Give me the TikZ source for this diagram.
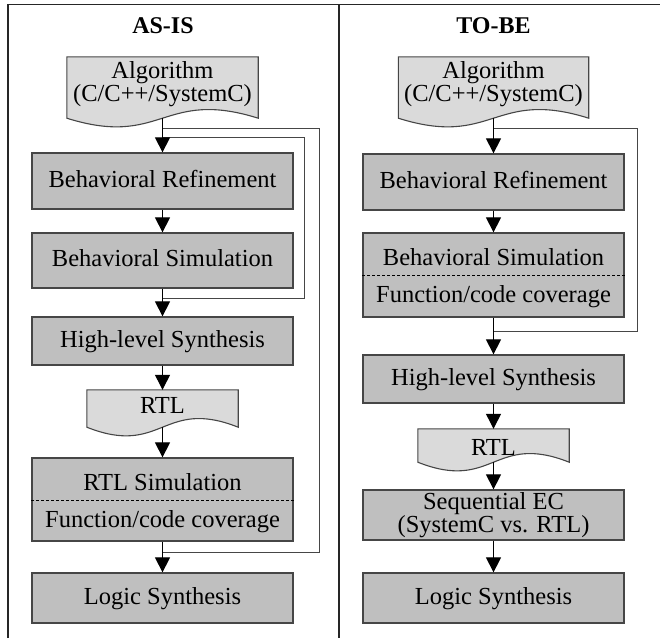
\documentclass[tikz,border=0pt]{standalone}
\usepackage{fontspec}
\setmainfont{Liberation Serif}
\usetikzlibrary{arrows.meta,calc,backgrounds}
\definecolor{boxgray}{RGB}{191,191,191}
\definecolor{docgray}{RGB}{218,218,218}
\definecolor{edgegray}{RGB}{70,70,70}

% document symbol behind a named node: flat top, wavy bottom on the node's south edge
\newcommand\docoutline[1]{%
  \begin{scope}[on background layer]
    \path[docline] (#1.south west) -- (#1.north west) -- (#1.north east) -- (#1.south east)
      .. controls ($(#1.south)+(0,-30)$) and ($(#1.south)+(0,30)$) .. (#1.south west) -- cycle;
  \end{scope}}

\begin{document}
\begin{tikzpicture}[x=1pt,y=-1pt,
  font=\fontsize{24.5}{22}\selectfont,
  stepbox/.style={draw=edgegray, line width=1.3pt, fill=boxgray, minimum width=261pt,
    inner sep=0pt, text height=17pt, text depth=5pt},
  twobox/.style={draw=edgegray, line width=1.3pt, fill=boxgray, minimum width=261pt, inner sep=0pt},
  doc/.style={inner sep=0pt, align=center},
  docline/.style={draw=edgegray, line width=1.1pt, fill=docgray},
  lbl/.style={anchor=base, inner sep=0pt},
  flow/.style={line width=1.2pt, -{Triangle[width=15pt,length=15pt]}},
  back/.style={draw=edgegray, line width=1pt},
  sepline/.style={dash pattern=on 3pt off 2pt, line width=0.8pt},
  frame/.style={line width=1.6pt, draw=black!85},
  title/.style={anchor=base, inner sep=0pt, font=\fontsize{24}{24}\selectfont\bfseries}
]
\useasboundingbox (0,0) rectangle (660,638);

% frame and column divider
\coordinate (fTL) at (8,4.5);
\coordinate (fTR) at (660,4.5);
\coordinate (fBL) at (8,638);
\coordinate (dT) at (339,4.5);
\coordinate (dB) at (339,638);
\draw[frame] (fBL) -- (fTL) -- (fTR);
\draw[frame] (dT) -- (dB);

% ---------------- AS-IS column ----------------
\node[title] (tAS) at (163,33.5) {AS-IS};

\node[doc, minimum width=191pt, minimum height=61pt, text depth=12pt] (algL) at (162.5,87.5)
  {Algorithm\\(C/C++/SystemC)};
\docoutline{algL}
\node[stepbox, minimum height=56pt] (refL) at (162.5,181) {Behavioral Refinement};
\node[stepbox, minimum height=55pt] (simL) at (162.5,260.5) {Behavioral Simulation};
\node[stepbox, minimum height=48pt] (hlsL) at (162.5,341) {High-level Synthesis};
\node[doc, minimum width=151pt, minimum height=37pt, text height=14pt, text depth=5pt] (rtlL) at (162.5,408.5) {RTL};
\docoutline{rtlL}
\node[twobox, minimum height=83pt] (rsimL) at (162.5,499.5) {};
\node[lbl] (rsimLa) at (162.5,490.5) {RTL Simulation};
\node[lbl] (rsimLb) at (162.5,527.5) {Function/code coverage};
\coordinate (sepL) at (0,500);
\draw[sepline] (rsimL.west |- sepL) -- (rsimL.east |- sepL);
\node[stepbox, minimum height=50pt] (logL) at (162.5,598) {Logic Synthesis};

% loop-back lines
\coordinate (loA1) at (162.5,128);
\coordinate (loA2) at (162.5,552);
\coordinate (loB1) at (162.5,137);
\coordinate (loB2) at (162.5,298);
\draw[back] (loA1) -- ++(156.5,0) |- (loA2);
\draw[back] (loB1) -- ++(141.5,0) |- (loB2);

\draw[flow] (algL.south) -- (refL.north);
\draw[flow] (refL.south) -- (simL.north);
\draw[flow] (simL.south) -- (hlsL.north);
\draw[flow] (hlsL.south) -- (rtlL.north);
\draw[flow] (rtlL.south) -- (rsimL.north);
\draw[flow] (rsimL.south) -- (logL.north);

% ---------------- TO-BE column ----------------
\node[title] (tTB) at (493.5,33.5) {TO-BE};

\node[doc, minimum width=190pt, minimum height=61pt, text depth=12pt] (algR) at (493.5,87.5)
  {Algorithm\\(C/C++/SystemC)};
\docoutline{algR}
\node[stepbox, minimum height=56pt] (refR) at (493.5,182) {Behavioral Refinement};
\node[twobox, minimum height=84pt] (simR) at (493.5,275) {};
\node[lbl] (simRa) at (493.5,265.7) {Behavioral Simulation};
\node[lbl] (simRb) at (493.5,302) {Function/code coverage};
\coordinate (sepR) at (0,275);
\draw[sepline] (simR.west |- sepR) -- (simR.east |- sepR);
\node[stepbox, minimum height=48pt] (hlsR) at (493.5,379) {High-level Synthesis};
\node[doc, minimum width=151pt, minimum height=33pt, text height=19pt, text depth=0pt] (rtlR) at (493.5,445.5) {RTL};
\docoutline{rtlR}
\node[twobox, minimum height=50pt, align=center, font=\fontsize{24.5}{20}\selectfont] (seqR) at (493.5,515)
  {Sequential EC\\(SystemC vs. RTL)};
\node[stepbox, minimum height=50pt] (logR) at (493.5,598) {Logic Synthesis};

% loop-back line
\coordinate (roA1) at (493.5,128);
\coordinate (roA2) at (493.5,331);
\draw[back] (roA1) -- ++(143.5,0) |- (roA2);

\draw[flow] (algR.south) -- (refR.north);
\draw[flow] (refR.south) -- (simR.north);
\draw[flow] (simR.south) -- (hlsR.north);
\draw[flow] (hlsR.south) -- (rtlR.north);
\draw[flow] (rtlR.south) -- (seqR.north);
\draw[flow] (seqR.south) -- (logR.north);
\end{tikzpicture}
\end{document}
